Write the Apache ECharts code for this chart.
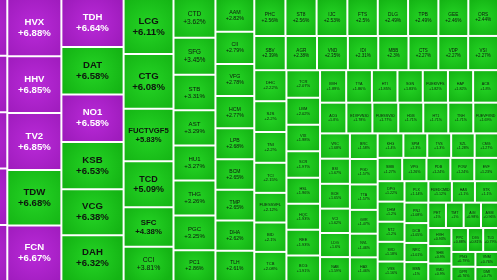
<!DOCTYPE html>
<html>
<head>
<meta charset="utf-8">
<script src="https://cdn.jsdelivr.net/npm/echarts@6/dist/echarts.min.js"></script>
<style>
html,body{margin:0;padding:0;background:#ffffff;}
#chart{width:497px;height:280px;overflow:hidden;}
</style>
</head>
<body>
<div id="chart"></div>
<script>
// Ceiling-price stocks whose cells are cut off by the left edge (names not visible)
const hiddenLeftValues = [6.97, 6.95, 6.94, 6.93, 6.9];

const tickers = [
  'HVX','HHV','TV2','TDW','FCN',
  'TDH','DAT','NO1','KSB','VCG','DAH',
  'LCG','CTG','FUCTVGF5','TCD','SFC','CCI',
  'CTD','SFG','STB','AST','HU1','THG','PGC','PC1',
  'AAM','CII','VFG','HCM','LPB','BCM','TMP','DHA',
  'TLH','PHC','ST8','IJC','FTS','DLG','TPB','GEE','ORS',
  'SBV','AGR','VND','IDI','MBB','CTS','VDP','VSI','DHC',
  'SJS','TNI','TCI','FUESSVFL','BID','TCB','TCR','LBM','VIX','SCR',
  'HSL','HQC','REE','BCG','BVH','TYA','HTI','SGN','FUEKIVFS','HAP',
  'ACB','ACG','E1VFVN30','FUESSV30','HDB','HT1','TNH','FUEVFVND','VRC','BSI',
  'BCE','VCI','LDG','NAB','BRC','PGD','TTA','GVR','NVL','HAX',
  'KHG','SPM','TVS','SZL','CMG','SMB','VPG','PDB','POW','EVF',
  'DPG','DHM','NT2','SVD','VSS','PLX','FUEDCMID','HAS','STK','PNJ',
  'DCB','NRC','MSN','PET','TMT','AGI','ASM','HVH','SHB','VMD','PPC',
  'DIG','TLD','PNG','DPR','VNM','DMI'
];

const changes = [
  6.88, 6.85, 6.85, 6.68, 6.67,
  6.64, 6.58, 6.58, 6.53, 6.38, 6.32,
  6.11, 6.08, 5.83, 5.09, 4.38, 3.81,
  3.62, 3.45, 3.31, 3.29, 3.27, 3.26, 3.25, 2.86,
  2.82, 2.79, 2.78, 2.77, 2.68, 2.65, 2.65, 2.62,
  2.61, 2.56, 2.56, 2.53, 2.5, 2.49, 2.49, 2.46, 2.44,
  2.39, 2.38, 2.35, 2.31, 2.3, 2.27, 2.27, 2.27, 2.22,
  2.2, 2.2, 2.15, 2.12, 2.1, 2.08, 2.07, 2.02, 1.98, 1.97,
  1.96, 1.93, 1.93, 1.91, 1.89, 1.86, 1.85, 1.83, 1.82, 1.82,
  1.8, 1.8, 1.78, 1.77, 1.71, 1.71, 1.71, 1.69, 1.68, 1.67,
  1.65, 1.62, 1.6, 1.59, 1.58, 1.57, 1.57, 1.47, 1.46, 1.46,
  1.4, 1.3, 1.3, 1.28, 1.27, 1.27, 1.26, 1.24, 1.24, 1.23,
  1.22, 1.2, 1.2, 1.18, 1.16, 1.14, 1.12, 1.1, 1.1, 1.08,
  1.05, 1.01, 1, 1, 1, 0.98, 0.96, 0.93, 0.9, 0.9, 0.88,
  0.81, 0.79, 0.79, 0.76, 0.76, 0.7
];

const ceilingTickers = ['HVX','HHV','TV2','FCN','TDH','NO1'];

// ---- styling ----
function cellFill(isCeil) {
  const c = isCeil ? ['#b92ad8', '#9e1bbc'] : ['#25d425', '#14b414'];
  return {
    type: 'radial', x: 0.5, y: 0.5, r: 0.75,
    colorStops: [{ offset: 0, color: c[0] }, { offset: 1, color: c[1] }]
  };
}
function fontSizeFor(name, v) {
  let fs = Math.max(3.6, Math.min(9.6, 1.6 * v + 0.8));
  // keep long tickers inside their (roughly square) cell
  const approxSide = Math.sqrt(v * 440);
  const chars = Math.max(name.length, String(v).length + 2);
  return Math.min(fs, 0.8 * approxSide / (0.66 * chars));
}
function makeItem(name, v, isCeil, showLabel) {
  const fs = Math.max(3.6, fontSizeFor(name, v));
  return {
    name: name,
    value: v,
    itemStyle: { color: cellFill(isCeil) },
    label: {
      show: showLabel,
      color: isCeil ? '#ffffff' : '#0e160e',
      fontSize: fs,
      lineHeight: fs * 1.15,
      fontWeight: (isCeil || v >= 4) ? 'bold' : 'normal'
    }
  };
}

const data = [];
hiddenLeftValues.forEach(function (v) { data.push(makeItem('', v, true, false)); });
tickers.forEach(function (t, i) {
  data.push(makeItem(t, changes[i], ceilingTickers.indexOf(t) >= 0, true));
});

const chart = echarts.init(document.getElementById('chart'), null, { renderer: 'canvas' });
chart.setOption({
  animation: false,
  series: [{
    type: 'treemap',
    left: -47,
    top: 0,
    width: 544,
    height: 280,
    roam: false,
    nodeClick: false,
    breadcrumb: { show: false },
    squareRatio: 1.13,
    sort: false,
    visibleMin: 0,
    itemStyle: { gapWidth: 2, borderWidth: 0, borderColor: '#ffffff' },
    label: {
      show: true,
      position: 'inside',
      padding: 0,
      overflow: 'none',
      fontFamily: 'Liberation Sans, Arial, sans-serif',
      formatter: function (p) { return p.name + '\n+' + p.value + '%'; }
    },
    emphasis: { disabled: true },
    data: data
  }]
});
</script>
</body>
</html>
